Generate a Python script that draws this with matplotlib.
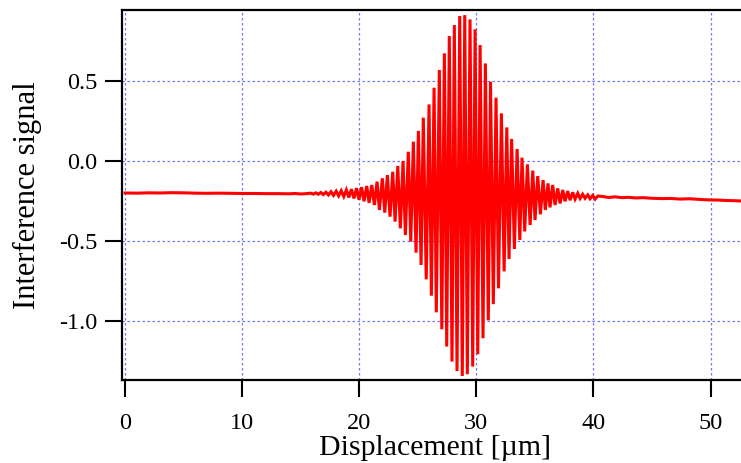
import matplotlib
matplotlib.use("Agg")
import matplotlib.pyplot as plt
import numpy as np

plt.rcParams['font.family'] = ['Liberation Serif', 'DejaVu Serif']
plt.rcParams['axes.unicode_minus'] = False

# ---- data ----
# flat baseline before the fringe packet (µm, signal)
base_left_x = [0.0, 1.0, 2.0, 3.0, 4.0, 5.0, 6.0, 7.0, 8.0, 9.0, 10.0, 11.0,
               12.0, 13.0, 14.0, 14.5, 15.0, 15.5]
base_left_y = [-0.200, -0.201, -0.199, -0.200, -0.198, -0.199, -0.201, -0.202,
               -0.201, -0.202, -0.203, -0.203, -0.204, -0.204, -0.205, -0.203,
               -0.206, -0.204]

# fringe maxima (µm, signal)
top_x = [15.85, 16.29, 16.72, 17.16, 17.59, 18.03, 18.46, 18.90, 19.33, 19.77,
         20.20, 20.64, 21.07, 21.52, 21.97, 22.40, 22.86, 23.29, 23.74, 24.19,
         24.62, 25.05, 25.47, 25.96, 26.39, 26.84, 27.27, 27.69, 28.12, 28.58,
         29.01, 29.46, 29.89, 30.32, 30.77, 31.21, 31.68, 32.14, 32.60, 33.01,
         33.48, 33.90, 34.36, 34.82, 35.24, 35.70, 36.12, 36.52, 36.95, 37.38,
         37.80, 38.23, 38.66, 39.08, 39.51, 39.94, 40.37]
top_y = [-0.201, -0.199, -0.197, -0.195, -0.192, -0.189, -0.186, -0.181, -0.176,
         -0.170, -0.164, -0.156, -0.150, -0.129, -0.108, -0.088, -0.067, -0.031,
         0.000, 0.058, 0.121, 0.188, 0.271, 0.354, 0.458, 0.569, 0.673, 0.781,
         0.850, 0.906, 0.912, 0.885, 0.823, 0.725, 0.610, 0.496, 0.396, 0.298,
         0.210, 0.138, 0.075, 0.021, -0.021, -0.060, -0.094, -0.119, -0.140,
         -0.150, -0.171, -0.181, -0.188, -0.196, -0.202, -0.208, -0.212, -0.215,
         -0.219]

# fringe minima (µm, signal)
bot_x = [16.07, 16.50, 16.93, 17.37, 17.80, 18.24, 18.68, 19.11, 19.55, 19.98,
         20.41, 20.84, 21.29, 21.72, 22.18, 22.63, 23.06, 23.51, 23.94, 24.40,
         24.85, 25.28, 25.72, 26.16, 26.58, 27.05, 27.47, 27.92, 28.35, 28.80,
         29.23, 29.69, 30.12, 30.57, 31.02, 31.45, 31.89, 32.37, 32.79, 33.25,
         33.71, 34.13, 34.59, 35.01, 35.47, 35.89, 36.29, 36.72, 37.15, 37.57,
         38.00, 38.43, 38.86, 39.28, 39.71, 40.14]
bot_y = [-0.207, -0.208, -0.210, -0.212, -0.215, -0.218, -0.222, -0.228, -0.234,
         -0.242, -0.252, -0.262, -0.275, -0.306, -0.323, -0.348, -0.379, -0.421,
         -0.463, -0.504, -0.573, -0.650, -0.740, -0.842, -0.946, -1.052, -1.160,
         -1.254, -1.313, -1.344, -1.333, -1.285, -1.208, -1.108, -0.996, -0.895,
         -0.796, -0.690, -0.613, -0.550, -0.494, -0.440, -0.400, -0.369, -0.333,
         -0.306, -0.290, -0.275, -0.265, -0.252, -0.245, -0.238, -0.234, -0.233,
         -0.236, -0.238]

# flat baseline after the fringe packet
base_right_x = [40.8, 41.3, 41.8, 42.4, 43.0, 43.6, 44.2, 45.0, 45.8, 46.6,
                47.4, 48.2, 49.0, 49.8, 50.6, 51.4, 52.0, 52.6]
base_right_y = [-0.222, -0.228, -0.224, -0.229, -0.227, -0.231, -0.229, -0.233,
                -0.235, -0.234, -0.238, -0.236, -0.240, -0.243, -0.244, -0.247,
                -0.248, -0.250]

x_ticks = [0, 10, 20, 30, 40, 50]
y_ticks = [-1.0, -0.5, 0.0, 0.5]
y_tick_labels = ["-1.0", "-0.5", "0.0", "0.5"]

# ---- assemble trace: alternate maxima and minima ----
fx, fy = [], []
pts = sorted(list(zip(top_x, top_y)) + list(zip(bot_x, bot_y)))
for a, b in pts:
    fx.append(a)
    fy.append(b)
xs = base_left_x + fx + base_right_x
ys = base_left_y + fy + base_right_y

fig = plt.figure(figsize=(7.41, 4.63), dpi=100)
W, H = 741, 463
ax = fig.add_axes([122 / W, (H - 380) / H, (W - 122) / W, (380 - 10) / H])

ax.plot(xs, ys, color='#ff0000', lw=2.2, solid_joinstyle='miter', zorder=3)

ax.set_xlim(-0.26, 52.6)
ax.set_ylim(-1.369, 0.944)
ax.set_xticks(x_ticks)
ax.set_yticks(y_ticks)
ax.set_yticklabels(y_tick_labels)

ax.grid(True, color='#7474ff', linestyle=(0, (2, 2)), linewidth=0.9)
ax.set_axisbelow(True)

for s in ['left', 'top', 'bottom']:
    ax.spines[s].set_linewidth(1.6)
    ax.spines[s].set_color('black')
ax.spines['right'].set_visible(False)

ax.tick_params(axis='both', direction='out', length=12, width=1.5,
               labelsize=17.5, colors='black')
ax.tick_params(axis='y', pad=6)
ax.tick_params(axis='x', pad=12)

ax.set_xlabel('Displacement [µm]', fontsize=21.5)
ax.xaxis.label.set_va('baseline')
ax.xaxis.set_label_coords((435 - 122) / 619, (380 - 455) / 370)
ax.set_ylabel('Interference signal', fontsize=22, labelpad=12)

fig.savefig('out.png', dpi=100)
